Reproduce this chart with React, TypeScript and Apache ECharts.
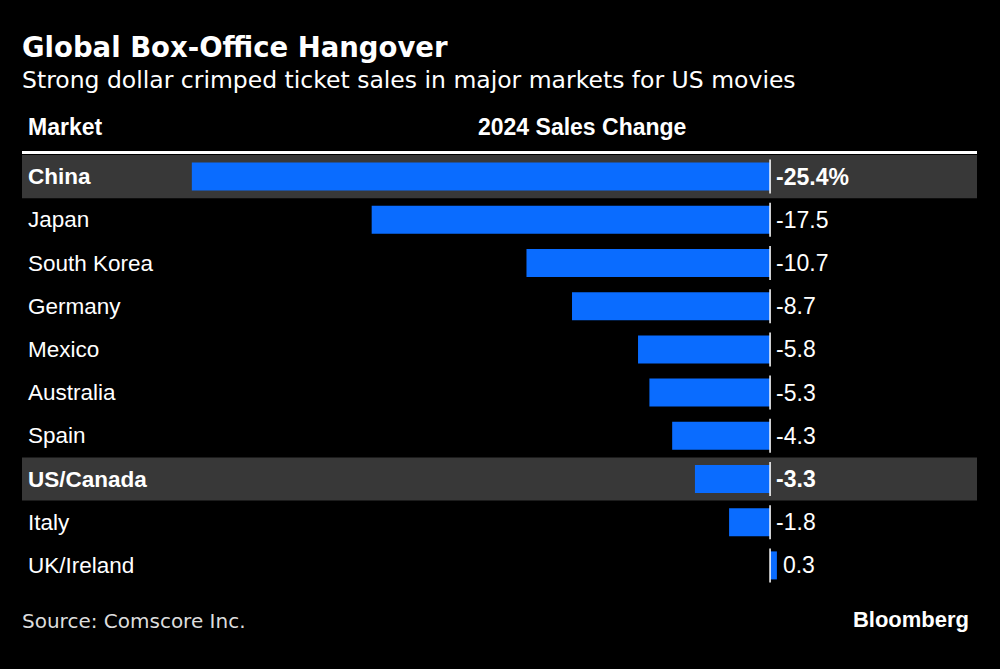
import React, { useEffect, useRef } from "react";
import * as echarts from "echarts";

const markets = ["China", "Japan", "South Korea", "Germany", "Mexico", "Australia", "Spain", "US/Canada", "Italy", "UK/Ireland"];
const salesChange = [-25.4, -17.5, -10.7, -8.7, -5.8, -5.3, -4.3, -3.3, -1.8, 0.3];
const highlighted = [true, false, false, false, false, false, false, true, false, false];
const valueLabels = ["-25.4%", "-17.5", "-10.7", "-8.7", "-5.8", "-5.3", "-4.3", "-3.3", "-1.8", "0.3"];

const TITLE = "Global Box-Office Hangover";
const SUBTITLE = "Strong dollar crimped ticket sales in major markets for US movies";
const SOURCE = "Source: Comscore Inc.";

export default function App() {
  const ref = useRef<HTMLDivElement>(null);
  useEffect(() => {
    if (!ref.current) return;
    const chart = echarts.init(ref.current, null, { renderer: "svg" });
    const sans = "Liberation Sans, Arial, sans-serif";
    const dv = "DejaVu Sans, sans-serif";
    chart.setOption({
      animation: false,
      backgroundColor: "#000000",
      grid: { left: 22, width: 955, top: 155, height: 432, containLabel: false },
      xAxis: {
        type: "value",
        min: -32.86,
        max: 9.09,
        show: false,
      },
      yAxis: {
        type: "category",
        data: markets,
        inverse: true,
        z: 10,
        axisLine: { show: false },
        axisTick: { show: false },
        splitLine: { show: false },
        axisLabel: {
          align: "left",
          margin: -6,
          color: "#ffffff",
          fontFamily: sans,
          fontSize: 22.5,
          formatter: (v: string) => {
            const i = markets.indexOf(v);
            return highlighted[i] ? `{b|${v}}` : `{n|${v}}`;
          },
          rich: {
            b: { fontWeight: "bold", fontSize: 22.5, color: "#ffffff", fontFamily: sans },
            n: { fontSize: 22.5, color: "#ffffff", fontFamily: sans },
          },
        },
      },
      graphic: [
        { type: "text", left: 22, top: 33, style: { text: TITLE, fill: "#ffffff", font: `bold 27.5px ${dv}` } },
        { type: "text", left: 22, top: 68, style: { text: SUBTITLE, fill: "#ffffff", font: `23.5px ${dv}` } },
        { type: "text", left: 28, top: 115, style: { text: "Market", fill: "#ffffff", font: `bold 23px ${sans}` } },
        { type: "text", left: 478, top: 115, style: { text: "2024 Sales Change", fill: "#ffffff", font: `bold 23px ${sans}` } },
        { type: "line", shape: { x1: 22, y1: 152.5, x2: 977, y2: 152.5 }, style: { stroke: "#ffffff", lineWidth: 3 } },
        { type: "text", left: 22, top: 611, style: { text: SOURCE, fill: "#dddddd", font: `20px ${dv}` } },
        { type: "text", right: 31, top: 608, style: { text: "Bloomberg", fill: "#ffffff", font: `bold 22px ${sans}` } },
      ],
      series: [
        {
          type: "custom",
          z: 1,
          silent: true,
          data: markets.map((_, i) => [0, i, highlighted[i] ? 1 : 0]),
          encode: { x: 0, y: 1 },
          renderItem: (params: any, api: any) => {
            if (!api.value(2)) return null;
            const c = api.coord([0, api.value(1)]);
            const h = api.size([0, 1])[1];
            const cs = params.coordSys;
            return {
              type: "rect",
              shape: { x: cs.x, y: c[1] - h / 2, width: cs.width, height: h },
              style: { fill: "#383838" },
            };
          },
        },
        {
          type: "bar",
          z: 2,
          barWidth: 28,
          data: salesChange.map((v, i) => ({
            value: v,
            label: {
              show: true,
              position: "right",
              distance: 6,
              formatter: valueLabels[i],
              color: "#ffffff",
              fontFamily: sans,
              fontSize: 23,
              fontWeight: highlighted[i] ? "bold" : "normal",
            },
          })),
          itemStyle: { color: "#0a6cff" },
        },
        {
          type: "custom",
          z: 3,
          silent: true,
          data: markets.map((_, i) => [0, i]),
          encode: { x: 0, y: 1 },
          renderItem: (params: any, api: any) => {
            const c = api.coord([0, api.value(1)]);
            return {
              type: "line",
              shape: { x1: c[0], y1: c[1] - 17, x2: c[0], y2: c[1] + 17 },
              style: { stroke: "#ffffff", lineWidth: 1.5 },
            };
          },
        },
      ],
    });
    return () => chart.dispose();
  }, []);
  return <div ref={ref} style={{ position: "fixed", left: 0, top: 0, width: 1000, height: 669 }} />;
}
